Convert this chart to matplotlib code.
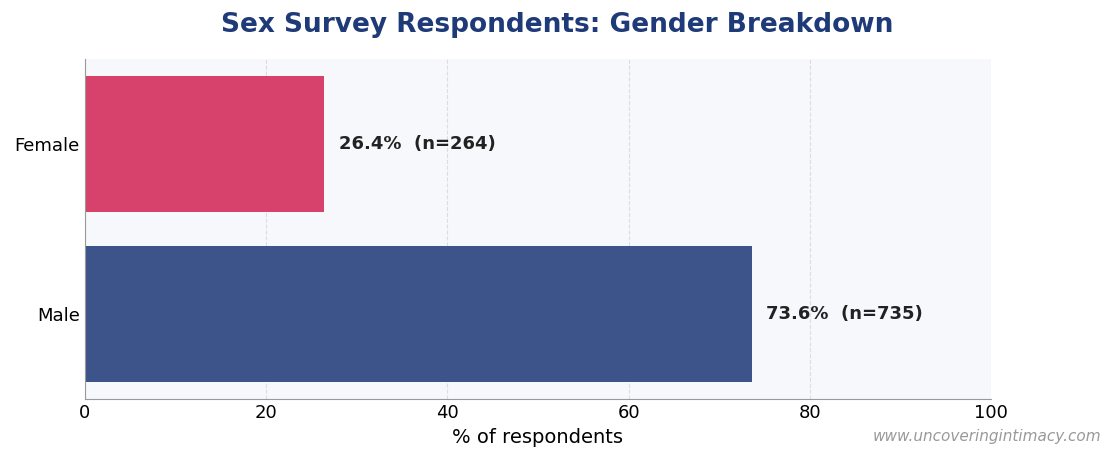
import matplotlib
matplotlib.use("Agg")
import matplotlib.pyplot as plt

categories = ["Male", "Female"]
values = [73.6, 26.4]
counts = [735, 264]
colors = ["#3d548b", "#d6426c"]

fig = plt.figure(figsize=(11.15, 4.63), dpi=100)
ax = fig.add_axes([0.076, 0.138, 0.813, 0.735])
ax.set_facecolor("#f7f8fc")
y = list(range(len(categories)))
ax.barh(y, values, color=colors, height=0.8, zorder=2)
for yi, v, n in zip(y, values, counts):
    ax.text(v + 1.6, yi, f"{v:.1f}%  (n={n})", va="center", ha="left",
            fontsize=13, fontweight="bold", color="#222222")
ax.set_yticks(y)
ax.set_yticklabels(categories, fontsize=13)
ax.set_xlim(0, 100)
ax.set_ylim(-0.5, 1.5)
ax.set_xticks([0, 20, 40, 60, 80, 100])
ax.tick_params(axis="x", labelsize=13, length=0)
ax.tick_params(axis="y", length=0)
ax.xaxis.grid(True, linestyle="--", color="#dddddd", zorder=0)
ax.set_xlabel("% of respondents", fontsize=14)
for s in ["top", "right"]:
    ax.spines[s].set_visible(False)
for s in ["left", "bottom"]:
    ax.spines[s].set_color("#999999")
fig.suptitle("Sex Survey Respondents: Gender Breakdown", fontsize=19,
             fontweight="bold", color="#1f3a78", y=0.975)
fig.text(0.988, 0.058, "www.uncoveringintimacy.com", ha="right", va="center",
         fontsize=11, style="italic", color="#999999")
fig.savefig("out.png", dpi=100)
